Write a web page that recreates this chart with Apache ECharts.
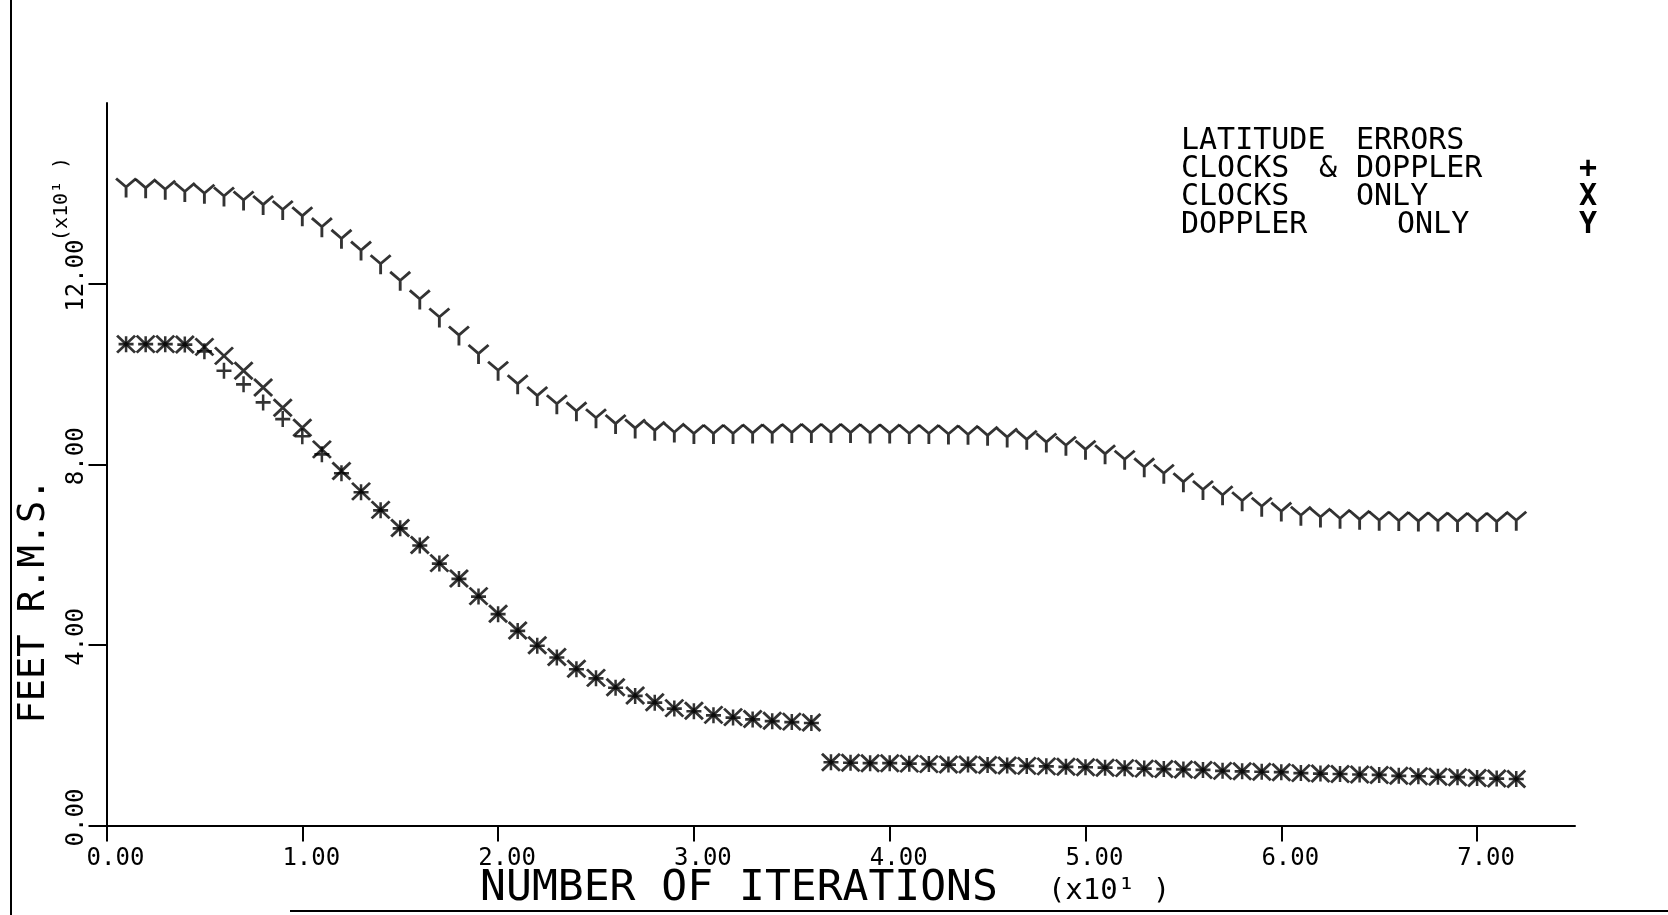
<!DOCTYPE html>
<html>
<head>
<meta charset="utf-8">
<script src="https://cdn.jsdelivr.net/npm/echarts@6/dist/echarts.min.js"></script>
<style>
html,body{margin:0;padding:0;background:#fff;}
#chart{width:1668px;height:915px;}
</style>
</head>
<body>
<div id="chart"></div>
<script>
// ---- data (x in units of 10 iterations) ----
const iterations = [0.1,0.2,0.3,0.4,0.5,0.6,0.7,0.8,0.9,1.0,
  1.1,1.2,1.3,1.4,1.5,1.6,1.7,1.8,1.9,2.0,
  2.1,2.2,2.3,2.4,2.5,2.6,2.7,2.8,2.9,3.0,
  3.1,3.2,3.3,3.4,3.5,3.6,3.7,3.8,3.9,4.0,
  4.1,4.2,4.3,4.4,4.5,4.6,4.7,4.8,4.9,5.0,
  5.1,5.2,5.3,5.4,5.5,5.6,5.7,5.8,5.9,6.0,
  6.1,6.2,6.3,6.4,6.5,6.6,6.7,6.8,6.9,7.0,
  7.1,7.2];

const dopplerOnly = [14.12,14.10,14.07,14.02,13.98,13.92,13.83,13.73,13.62,13.48,
  13.24,12.98,12.72,12.42,12.05,11.64,11.24,10.84,10.43,10.06,
  9.76,9.50,9.32,9.16,9.01,8.88,8.78,8.73,8.69,8.66,
  8.66,8.66,8.67,8.67,8.68,8.68,8.68,8.68,8.67,8.67,
  8.66,8.66,8.65,8.64,8.62,8.58,8.53,8.47,8.40,8.31,
  8.21,8.09,7.92,7.78,7.59,7.42,7.30,7.17,7.05,6.94,
  6.85,6.81,6.78,6.76,6.74,6.73,6.72,6.72,6.71,6.71,
  6.71,6.74];

const clocksOnly = [10.66,10.66,10.66,10.65,10.60,10.40,10.07,9.70,9.25,8.81,
  8.33,7.85,7.40,6.99,6.59,6.21,5.81,5.47,5.08,4.69,
  4.32,3.99,3.73,3.47,3.27,3.06,2.88,2.73,2.60,2.54,
  2.45,2.40,2.36,2.32,2.30,2.28,1.40,1.39,1.38,1.38,
  1.37,1.36,1.35,1.35,1.34,1.33,1.32,1.31,1.30,1.29,
  1.28,1.27,1.26,1.25,1.24,1.23,1.21,1.20,1.19,1.18,
  1.16,1.15,1.14,1.13,1.12,1.10,1.09,1.08,1.07,1.05,
  1.04,1.03];

const clocksDoppler = [10.66,10.66,10.66,10.65,10.50,10.07,9.77,9.37,9.00,8.62,
  8.22,7.80,7.38,6.98,6.58,6.20,5.80,5.46,5.07,4.68,
  4.31,3.98,3.72,3.46,3.26,3.05,2.87,2.72,2.59,2.53,
  2.44,2.39,2.35,2.31,2.29,2.27,1.40,1.39,1.38,1.38,
  1.37,1.36,1.35,1.35,1.34,1.33,1.32,1.31,1.30,1.29,
  1.28,1.27,1.26,1.25,1.24,1.23,1.21,1.20,1.19,1.18,
  1.16,1.15,1.14,1.13,1.12,1.10,1.09,1.08,1.07,1.05,
  1.04,1.03];

const xTicks = [0,1,2,3,4,5,6,7];
const yTicks = [0,4,8,12];

const xAxisTitle = 'NUMBER OF ITERATIONS';
const xAxisUnit = '(x10\u00B9 )';
const yAxisTitle = 'FEET R.M.S.';
const yAxisUnit = '(x10\u00B9 )';
const legendTitle = ['LATITUDE', 'ERRORS'];
const legendRows = [
  {name: 'CLOCKS & DOPPLER', words: ['CLOCKS', '&', 'DOPPLER'], mark: '+'},
  {name: 'CLOCKS ONLY', words: ['CLOCKS', 'ONLY'], mark: 'X'},
  {name: 'DOPPLER ONLY', words: ['DOPPLER', 'ONLY'], mark: 'Y'}
];

// ---- rendering ----
const FONT = '"DejaVu Sans Mono", "Liberation Mono", monospace';
const chart = echarts.init(document.getElementById('chart'), null, {renderer: 'canvas'});

function pairs(ys) { return ys.map((y, i) => [iterations[i], y]); }

const SYM_Y = 'path://M0,0 L10,9 L20,0 M10,9 L10,20';
const SYM_X = 'path://M0,0 L20,20 M20,0 L0,20';
const SYM_P = 'path://M10,0 L10,20 M0,10 L20,10';

function markStyle(w) {
  return {color: 'rgba(0,0,0,0)', borderColor: '#000', borderWidth: w};
}

// legend text layout (decorative positions)
const legendX = [1181, 1319, 1356, 1397];
const rowY = [141, 169, 197, 225];
const fontL = '30px ' + FONT;
const graphics = [];
function txt(t, x, y, font, align, rot) {
  graphics.push({type: 'text', x: x, y: y, rotation: rot || 0, silent: true,
    style: {text: t, font: font, fill: '#000', align: align || 'left', verticalAlign: 'middle'}});
}
txt(legendTitle[0], legendX[0], rowY[0], fontL);
txt(legendTitle[1], legendX[2], rowY[0], fontL);
txt(legendRows[0].words[0], legendX[0], rowY[1], fontL);
txt(legendRows[0].words[1], legendX[1], rowY[1], fontL);
txt(legendRows[0].words[2], legendX[2], rowY[1], fontL);
txt(legendRows[1].words[0], legendX[0], rowY[2], fontL);
txt(legendRows[1].words[1], legendX[2], rowY[2], fontL);
txt(legendRows[2].words[0], legendX[0], rowY[3], fontL);
txt(legendRows[2].words[1], legendX[3], rowY[3], fontL);
legendRows.forEach((r, i) => txt(r.mark, 1588, rowY[i + 1], 'bold 30px ' + FONT, 'center'));

txt(xAxisTitle, 739, 889, '43px ' + FONT, 'center');
txt(xAxisUnit, 1109, 891, '29px ' + FONT, 'center');
txt(yAxisTitle, 34, 601, '37px ' + FONT, 'center', Math.PI / 2);
txt(yAxisUnit, 62, 199, '20px ' + FONT, 'center', Math.PI / 2);

// page frame lines
graphics.push({type: 'line', silent: true, shape: {x1: 11, y1: 0, x2: 11, y2: 915}, style: {stroke: '#000', lineWidth: 2}});
graphics.push({type: 'line', silent: true, shape: {x1: 290, y1: 911, x2: 1668, y2: 911}, style: {stroke: '#000', lineWidth: 2}});

const option = {
  backgroundColor: '#fff',
  animation: false,
  grid: {left: 106.5, right: 93, top: 103, bottom: 89.5, containLabel: false, outerBoundsMode: 'none'},
  xAxis: {
    type: 'value', min: 0, max: 7.5, interval: 1,
    axisLine: {show: true, onZero: false, lineStyle: {color: '#000', width: 2}},
    axisTick: {show: true, length: 16, customValues: xTicks, lineStyle: {color: '#000', width: 2}},
    axisLabel: {customValues: xTicks, formatter: v => Number(v).toFixed(2), color: '#000',
      fontFamily: FONT, fontSize: 24, margin: 21, padding: [0, 0, 0, 18]},
    splitLine: {show: false}
  },
  yAxis: {
    type: 'value', min: 0, max: 16, interval: 4,
    axisLine: {show: true, onZero: false, lineStyle: {color: '#000', width: 2}},
    axisTick: {show: true, length: 18, customValues: yTicks, lineStyle: {color: '#000', width: 2}},
    axisLabel: {customValues: yTicks, formatter: v => Number(v).toFixed(2), color: '#000',
      fontFamily: FONT, fontSize: 24, margin: 18, rotate: 90, padding: [0, 0, 0, 16]},
    splitLine: {show: false}
  },
  graphic: graphics,
  series: [
    {name: legendRows[2].name, type: 'scatter', data: pairs(dopplerOnly), symbol: SYM_Y,
      symbolSize: [20, 19], itemStyle: markStyle(2.8), silent: true},
    {name: legendRows[1].name, type: 'scatter', data: pairs(clocksOnly), symbol: SYM_X,
      symbolSize: [18, 17], itemStyle: markStyle(2.8), silent: true},
    {name: legendRows[0].name, type: 'scatter', data: pairs(clocksDoppler), symbol: SYM_P,
      symbolSize: [15, 16], itemStyle: markStyle(2.6), silent: true}
  ]
};
chart.setOption(option);
</script>
</body>
</html>
